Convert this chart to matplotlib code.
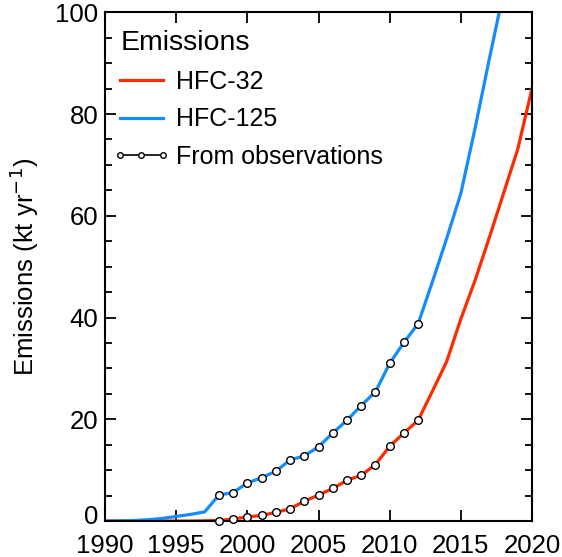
import numpy as np
import matplotlib
matplotlib.use('Agg')
import matplotlib.pyplot as plt
import matplotlib.transforms as mtransforms
from matplotlib.lines import Line2D
from matplotlib.legend_handler import HandlerLine2D
from matplotlib.ticker import MultipleLocator

plt.rcParams['font.family'] = ['Liberation Sans', 'DejaVu Sans']
plt.rcParams['mathtext.default'] = 'regular'

# years with atmospheric observation-based estimates
obs_years = np.arange(1998, 2013)
hfc32_obs = [0.1, 0.4, 0.8, 1.1, 1.7, 2.4, 3.9, 5.1, 6.4, 8.0, 9.0, 11.1, 14.7, 17.3, 19.8]
hfc125_obs = [5.1, 5.6, 7.5, 8.5, 9.8, 12.0, 12.8, 14.6, 17.3, 19.8, 22.7, 25.4, 31.0, 35.1, 38.8]

# inventory before 1998
early_years = np.arange(1990, 1998)
hfc32_early = [0, 0, 0, 0, 0, 0, 0, 0.05]
hfc125_early = [0, 0.02, 0.1, 0.25, 0.5, 0.9, 1.3, 1.8]

# projections after 2012
late_years = np.arange(2013, 2021)
hfc32_late = [25.5, 31.3, 39.7, 47.3, 55.7, 64.4, 73.1, 85.0]
hfc125_late = [47.0, 55.5, 64.4, 77.2, 90.8, 104.0, 118.0, 132.0]

year_ticks = [1990, 1995, 2000, 2005, 2010, 2015, 2020]
emis_ticks = [0, 20, 40, 60, 80, 100]

years = np.concatenate([early_years, obs_years, late_years])
hfc32 = np.concatenate([hfc32_early, hfc32_obs, hfc32_late])
hfc125 = np.concatenate([hfc125_early, hfc125_obs, hfc125_late])

red = '#FF2A00'
blue = '#148CFF'

fig = plt.figure(figsize=(5.62, 5.57), dpi=100)
ax = fig.add_axes([0.187, 0.0646, 0.7596, 0.9134])

ax.plot(years, hfc32, color=red, lw=2.3, zorder=2)
ax.plot(years, hfc125, color=blue, lw=2.3, zorder=2)
ax.plot(obs_years, hfc32_obs, 'o', ms=5.5, mfc='white', mec='black', mew=1.0, zorder=3, clip_on=False)
ax.plot(obs_years, hfc125_obs, 'o', ms=5.5, mfc='white', mec='black', mew=1.0, zorder=3, clip_on=False)

ax.set_xlim(1990, 2020)
ax.set_ylim(0, 100)
ax.set_xticks(year_ticks)
ax.set_yticks(emis_ticks)
ax.yaxis.set_minor_locator(MultipleLocator(5))
ax.tick_params(which='both', direction='in', top=True, right=True, width=1.3, labelsize=18.5)
ax.tick_params(which='major', length=8)
ax.tick_params(which='minor', length=5)
ax.tick_params(axis='x', pad=9.5)
ax.tick_params(axis='y', pad=5)
for s in ax.spines.values():
    s.set_linewidth(1.5)

# lift the "0" label a little so it clears the year labels
zero_lab = ax.yaxis.get_major_ticks()[0].label1
zero_lab.set_transform(zero_lab.get_transform() +
                       mtransforms.ScaledTranslation(0, 5 / 72, fig.dpi_scale_trans))

ax.set_ylabel('Emissions (kt yr$^{\\mathsf{-1}}$)', fontsize=18.5, labelpad=10)

h32 = Line2D([], [], color=red, lw=2.3)
h125 = Line2D([], [], color=blue, lw=2.3)
hobs = Line2D([], [], color='black', lw=1.2, marker='o', ms=4, mfc='white', mec='black', mew=1.0)
leg = ax.legend([h32, h125, hobs], ['HFC-32', 'HFC-125', 'From observations'],
                title='Emissions', loc='upper left', bbox_to_anchor=(0.005, 0.991), frameon=False,
                handler_map={h32: HandlerLine2D(numpoints=1),
                             h125: HandlerLine2D(numpoints=1),
                             hobs: HandlerLine2D(numpoints=3, marker_pad=0)},
                fontsize=18, title_fontsize=20.5, handlelength=1.7, handletextpad=0.55,
                labelspacing=0.55, borderaxespad=0.12)
leg._legend_box.align = 'left'

plt.savefig('out.png', dpi=100)
